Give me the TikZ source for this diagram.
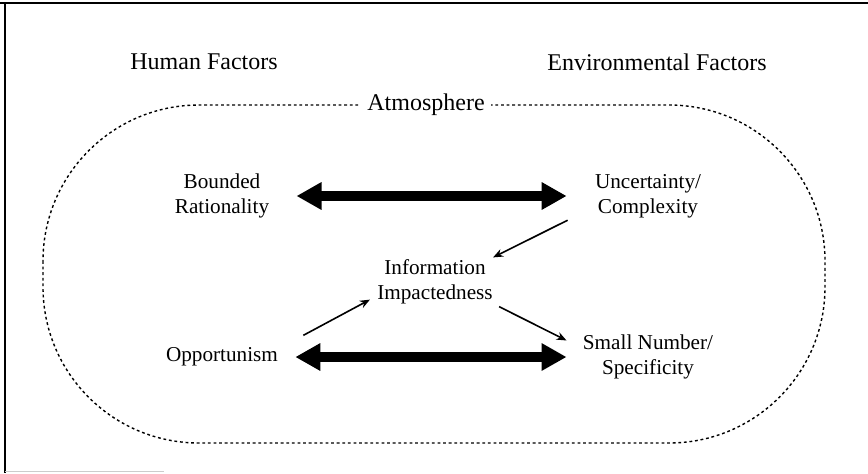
\documentclass[tikz,border=0pt]{standalone}
\usepackage{fontspec}
\setmainfont{Liberation Serif}
\usetikzlibrary{arrows.meta, positioning}

\begin{document}
\begin{tikzpicture}[x=1pt,y=1pt,node distance=2cm,on grid]
    \tikzstyle{factor}=[inner sep=0pt,font=\fontsize{12}{14}\selectfont]
    \tikzstyle{item}=[inner sep=0pt,align=center,font=\fontsize{10.6}{12.5}\selectfont]
    \tikzstyle{bigarrow}=[{Triangle[length=12.5pt,width=13pt]}-{Triangle[length=12.5pt,width=13pt]},line width=5pt]
    \tikzstyle{smallarrow}=[-{Stealth[length=5pt,width=4pt]},line width=0.8pt]
    \tikzstyle{border}=[dash pattern=on 1.4pt off 1.4pt,line width=0.7pt]

    \useasboundingbox (0,0) rectangle (434,-236.5);

    % frame
    \draw[line width=1pt] (0,-1.5) -- (434,-1.5);
    \draw[line width=0.6pt] (2.5,-1.5) -- (2.5,-236.5);
    \draw[gray!40,line width=0.6pt] (2.5,-235.8) -- (82,-235.8);

    % atmosphere
    \draw[border,rounded corners=78pt] (21.5,-52.5) rectangle (412.5,-221.5);

    \node[factor] (HF) at (102,-31) {Human Factors};
    \node[factor] (EF) at (328.5,-31) {Environmental Factors};
    \node[factor,fill=white,inner sep=3pt] (AT) at (213,-52.5) {Atmosphere};

    \node[item] (BR) at (111,-98) {Bounded\\Rationality};
    \node[item, right=213pt of BR] (UC) {Uncertainty/\\Complexity};
    \node[item] (II) at (217.5,-141) {Information\\Impactedness};
    \node[item, below=80.5pt of BR] (OP) {Opportunism};
    \node[item, right=213pt of OP] (SN) {Small Number/\\Specificity};

    \draw[bigarrow, shorten <=13.5pt, shorten >=14pt] (BR.east) -- (UC.west);
    \draw[bigarrow, shorten <=8.5pt, shorten >=8pt] (OP.east) -- (SN.west);

    \draw[smallarrow] ([xshift=-13.5pt,yshift=-1pt]UC.south west) -- ([yshift=1pt]II.north east);
    \draw[smallarrow] ([xshift=12.5pt,yshift=6pt]OP.north east) -- ([xshift=-3.5pt,yshift=2.5pt]II.south west);
    \draw[smallarrow] ([xshift=3pt,yshift=-1pt]II.south east) -- ([xshift=-8pt,yshift=-3pt]SN.north west);
\end{tikzpicture}
\end{document}
